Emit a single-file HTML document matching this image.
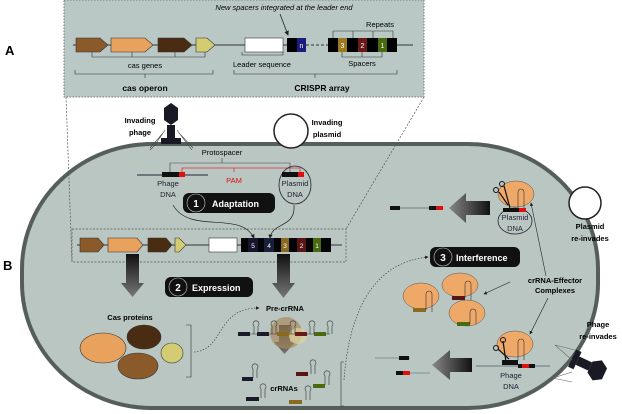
<!DOCTYPE html>
<html><head><meta charset="utf-8"><style>body{margin:0;background:#fff}svg{display:block}text{font-family:"Liberation Sans",sans-serif}</style></head><body>
<svg width="622" height="414" viewBox="0 0 622 414" xmlns="http://www.w3.org/2000/svg">
<defs>
<marker id="ah" markerWidth="6" markerHeight="6" refX="5" refY="3" orient="auto"><path d="M0,0 L6,3 L0,6 z" fill="#222"/></marker>
<linearGradient id="gv" x1="0" y1="0" x2="0" y2="1"><stop offset="0" stop-color="#111"/><stop offset="1" stop-color="#777"/></linearGradient>
<linearGradient id="gh" x1="1" y1="0" x2="0" y2="0"><stop offset="0" stop-color="#111"/><stop offset="1" stop-color="#888"/></linearGradient>
</defs>
<!-- cell -->
<rect x="22" y="144" width="576" height="264" rx="130" ry="125" fill="#b9c6c2" stroke="#555e5b" stroke-width="4"/>
<!-- panel A -->
<rect x="64" y="0" width="360" height="97" fill="#b9c8c4" stroke="#777" stroke-dasharray="1.5,1.5"/>
<line x1="66" y1="97" x2="72" y2="262" stroke="#555" stroke-width="0.7" stroke-dasharray="2,1.5"/>
<line x1="424" y1="97" x2="346" y2="229" stroke="#555" stroke-width="0.7" stroke-dasharray="2,1.5"/>
<path d="M72,229 H346 V262 H72 Z" fill="none" stroke="#555" stroke-width="0.7" stroke-dasharray="2,1.5"/>
<text x="5" y="55" font-size="13" font-weight="bold">A</text>
<text x="3" y="270" font-size="13" font-weight="bold">B</text>
<text x="284" y="10" font-size="7.5" font-style="italic" text-anchor="middle">New spacers integrated at the leader end</text>
<line x1="280" y1="14" x2="288" y2="35" stroke="#222" stroke-width="0.8" marker-end="url(#ah)"/>
<line x1="73" y1="45" x2="287" y2="45" stroke="#333"/>
<line x1="306" y1="45" x2="328" y2="45" stroke="#333" stroke-dasharray="3,2"/>
<line x1="397" y1="45" x2="413" y2="45" stroke="#333"/>
<g stroke="#333" stroke-width="0.6">
<path d="M76,38 H100 L108,45 L100,52 H76 Z" fill="#8b5a2b"/>
<path d="M111,38 H145 L153,45 L145,52 H111 Z" fill="#e8a25e"/>
<path d="M158,38 H184 L192,45 L184,52 H158 Z" fill="#4a2c12"/>
<path d="M196,38 H207 L215,45 L207,52 H196 Z" fill="#d4cc72"/>
<rect x="245" y="38" width="38" height="14" fill="#fff"/>
</g>
<rect x="287" y="38" width="10" height="14" fill="#000"/><rect x="297" y="38" width="9" height="14" fill="#1c1c7a"/>
<text x="301.5" y="48" font-size="7" fill="#fff" text-anchor="middle">n</text>
<rect x="328" y="38" width="69" height="14" fill="#000"/>
<rect x="338" y="38" width="9" height="14" fill="#9b7a20"/><rect x="358" y="38" width="9" height="14" fill="#6b1a1a"/><rect x="378" y="38" width="9" height="14" fill="#4a6a10"/>
<g font-size="7" fill="#fff" text-anchor="middle"><text x="342.5" y="48">3</text><text x="362.5" y="48">2</text><text x="382.5" y="48">1</text></g>
<g fill="none" stroke="#333" stroke-width="0.6">
<path d="M333,38 V31 H393 V38 M353,31 V38 M373,31 V38"/>
<path d="M342,52 V57 H382 V52 M362,52 V57"/>
<path d="M92,52 V57 H205 V52 M132,52 V57 M175,52 V57"/>
<path d="M75,70 V74 H213 V70 M145,74 V78"/>
<path d="M242,52 V55 H283 V52"/>
<path d="M234,70 V74 H397 V70 M315,74 V78"/>
</g>
<g font-size="7.5" text-anchor="middle">
<text x="380" y="27">Repeats</text><text x="362" y="66">Spacers</text>
<text x="145" y="68">cas genes</text><text x="262" y="67">Leader sequence</text>
<text x="145" y="91" font-size="8.5" font-weight="bold">cas operon</text>
<text x="322" y="91" font-size="8.5" font-weight="bold">CRISPR array</text>
</g>
<!-- invading phage -->
<g fill="#1a1a24">
<polygon points="171,103 178,108 178,120 171,125 164,120 164,108"/>
<rect x="167" y="125" width="8" height="15"/><rect x="161" y="138" width="20" height="6"/>
</g>
<g stroke="#444" stroke-width="0.6" fill="none"><path d="M165,130 L155,145 L150,150 M177,130 L188,145 L192,150 M163,133 L150,148 M179,133 L193,148"/></g>
<text x="140" y="123" font-size="7.5" font-weight="bold" text-anchor="middle">Invading</text>
<text x="140" y="135" font-size="7.5" font-weight="bold" text-anchor="middle">phage</text>
<circle cx="291" cy="131" r="17" fill="#fff" stroke="#222" stroke-width="1.5"/>
<text x="327" y="125" font-size="7.5" font-weight="bold" text-anchor="middle">Invading</text>
<text x="327" y="137" font-size="7.5" font-weight="bold" text-anchor="middle">plasmid</text>
<!-- adaptation -->
<text x="222" y="155" font-size="7.5" text-anchor="middle">Protospacer</text>
<path d="M170,172 V163 H290 V172 M222,163 V158" fill="none" stroke="#444" stroke-width="0.6"/>
<path d="M182,173 V168 H300 V173 M234,168 V172" fill="none" stroke="#d33" stroke-width="0.8"/>
<line x1="137" y1="175" x2="208" y2="175" stroke="#445" stroke-width="1.2"/>
<rect x="162" y="172" width="23" height="5" fill="#111"/><rect x="179" y="172" width="6" height="5" fill="#e01010"/>
<text x="234" y="183" font-size="7.5" fill="#d11" text-anchor="middle">PAM</text>
<ellipse cx="295" cy="185" rx="16" ry="19" fill="none" stroke="#223" stroke-width="0.8"/>
<rect x="282" y="172" width="21" height="5" fill="#111"/><rect x="298" y="172" width="6" height="5" fill="#e01010"/>
<g font-size="7.5" fill="#223" text-anchor="middle"><text x="168" y="186">Phage</text><text x="168" y="197">DNA</text><text x="295" y="186">Plasmid</text><text x="295" y="197">DNA</text></g>
<rect x="183" y="193" width="92" height="20" rx="6" fill="#111"/><circle cx="196" cy="203" r="9" fill="#111" stroke="#ccc" stroke-width="0.6"/>
<text x="196" y="207" font-size="10" fill="#fff" text-anchor="middle" font-weight="bold">1</text>
<text x="212" y="207" font-size="9" fill="#fff" font-weight="bold">Adaptation</text>
<path d="M173,205 C190,235 240,210 254,238" fill="none" stroke="#222" stroke-width="0.7" marker-end="url(#ah)"/>
<path d="M294,205 C296,228 272,222 270,238" fill="none" stroke="#222" stroke-width="0.7" marker-end="url(#ah)"/>
<!-- B gene row -->
<line x1="77" y1="245" x2="342" y2="245" stroke="#333"/>
<g stroke="#333" stroke-width="0.6">
<path d="M80,238 H98 L104,245 L98,252 H80 Z" fill="#8b5a2b"/>
<path d="M108,238 H137 L143,245 L137,252 H108 Z" fill="#e8a25e"/>
<path d="M148,238 H166 L172,245 L166,252 H148 Z" fill="#4a2c12"/>
<path d="M175,238 H179 L186,245 L179,252 H175 Z" fill="#d4cc72"/>
<rect x="209" y="238" width="28" height="14" fill="#fff"/>
</g>
<rect x="241" y="238" width="90" height="14" fill="#050508"/>
<rect x="248" y="238" width="10" height="14" fill="#151530"/><rect x="264" y="238" width="10" height="14" fill="#1a2038"/>
<rect x="281" y="238" width="8" height="14" fill="#8a6a20"/><rect x="297" y="238" width="9" height="14" fill="#5a1515"/><rect x="313" y="238" width="8" height="14" fill="#4a6a10"/>
<g font-size="6.5" fill="#fff" text-anchor="middle"><text x="253" y="248">5</text><text x="269" y="248">4</text><text x="285" y="248">3</text><text x="301.5" y="248">2</text><text x="317" y="248">1</text></g>
<!-- gray arrows -->
<path d="M126,254 H139 V283 H144 L132.5,297 L121,283 H126 Z" fill="url(#gv)"/>
<path d="M277,254 H290 V283 H295 L283.5,298 L272,283 H277 Z" fill="url(#gv)"/>
<path d="M279,325 H290 V342 H295 L284.5,354 L274,342 H279 Z" fill="url(#gv)"/>
<rect x="165" y="277" width="88" height="20" rx="6" fill="#111"/><circle cx="178" cy="287" r="9" fill="#111" stroke="#ccc" stroke-width="0.6"/>
<text x="178" y="291" font-size="10" fill="#fff" text-anchor="middle" font-weight="bold">2</text>
<text x="192" y="291" font-size="9" fill="#fff" font-weight="bold">Expression</text>
<text x="130" y="320" font-size="7.5" font-weight="bold" text-anchor="middle">Cas proteins</text>
<g stroke="#333" stroke-width="0.6">
<ellipse cx="103" cy="348" rx="23" ry="15" fill="#e8a25e"/>
<ellipse cx="144" cy="337" rx="17" ry="12" fill="#4a2c12"/>
<ellipse cx="138" cy="366" rx="20" ry="13" fill="#8b5a2b"/>
<ellipse cx="172" cy="353" rx="11" ry="10" fill="#d4cc72"/>
</g>
<path d="M186,325 H191 V377 H186" fill="none" stroke="#333" stroke-width="0.6"/>
<path d="M194,352 C225,350 215,308 259,308" fill="none" stroke="#333" stroke-width="0.6" stroke-dasharray="1.5,1.5" marker-end="url(#ah)"/>
<text x="285" y="311" font-size="7.5" font-weight="bold" text-anchor="middle">Pre-crRNA</text>
<!-- pre-crRNA -->
<ellipse cx="286" cy="333" rx="16" ry="16" fill="#a88a60" opacity="0.7"/>
<ellipse cx="298" cy="336" rx="9" ry="8" fill="#ddd49a" opacity="0.7"/>
<line x1="238" y1="334" x2="330" y2="334" stroke="#333" stroke-width="0.5"/>
<g fill="#1a1a2a"><rect x="238" y="332" width="12" height="4"/><rect x="257" y="332" width="12" height="4"/></g>
<rect x="277" y="332" width="12" height="4" fill="#8a6a20"/><rect x="295" y="332" width="12" height="4" fill="#6b1a1a"/><rect x="314" y="332" width="12" height="4" fill="#4a6a10"/>
<g fill="none" stroke="#333" stroke-width="0.6">
<path d="M254,334 V326 a3,3 0 1,1 4,0 V334"/><path d="M272,334 V326 a3,3 0 1,1 4,0 V334"/><path d="M291,334 V326 a3,3 0 1,1 4,0 V334"/><path d="M310,334 V326 a3,3 0 1,1 4,0 V334"/><path d="M328,334 V326 a3,3 0 1,1 4,0 V334"/>
</g>
<text x="284" y="391" font-size="7.5" font-weight="bold" text-anchor="middle">crRNAs</text>
<g fill="none" stroke="#333" stroke-width="0.6">
<path d="M253,378 V369 a3,3 0 1,1 4,0 V378"/><path d="M261,398 V389 a3,3 0 1,1 4,0 V398"/><path d="M311,374 V365 a3,3 0 1,1 4,0 V374"/><path d="M306,400 V391 a3,3 0 1,1 4,0 V400"/><path d="M325,385 V376 a3,3 0 1,1 4,0 V385"/>
</g>
<rect x="242" y="377" width="11" height="4" fill="#1a1a2a"/><rect x="246" y="397" width="13" height="4" fill="#1a1a2a"/>
<rect x="296" y="372" width="12" height="4" fill="#5a1515"/><rect x="313" y="384" width="12" height="4" fill="#4a6a10"/><rect x="289" y="400" width="13" height="4" fill="#8a6a20"/>
<path d="M344,362 H341 V406 H344" fill="none" stroke="#333" stroke-width="0.6"/>
<!-- interference -->
<path d="M344,380 C350,300 380,262 428,257" fill="none" stroke="#333" stroke-width="0.6" stroke-dasharray="1.5,1.5" marker-end="url(#ah)"/>
<rect x="430" y="247" width="90" height="20" rx="6" fill="#111"/><circle cx="443" cy="257" r="9" fill="#111" stroke="#ccc" stroke-width="0.6"/>
<text x="443" y="261" font-size="10" fill="#fff" text-anchor="middle" font-weight="bold">3</text>
<text x="456" y="261" font-size="9" fill="#fff" font-weight="bold">Interference</text>
<!-- plasmid complex -->
<ellipse cx="516" cy="194" rx="18" ry="13" fill="#eea868" stroke="#555" stroke-width="0.5"/>
<ellipse cx="515" cy="221" rx="17" ry="13" fill="none" stroke="#223" stroke-width="0.8"/>
<rect x="503" y="208" width="22" height="4" fill="#111"/><rect x="519" y="208" width="7" height="4" fill="#e01010"/>
<path d="M518,208 V192 a3,3 0 1,1 6,0 V208" fill="none" stroke="#333" stroke-width="0.6"/>
<path d="M504,186 L510,208 M499,192 L508,205" stroke="#111" stroke-width="1.2"/>
<circle cx="502" cy="184" r="2.5" fill="none" stroke="#111"/><circle cx="496" cy="190" r="2.5" fill="none" stroke="#111"/>
<g font-size="7.5" fill="#223" text-anchor="middle"><text x="515" y="220">Plasmid</text><text x="515" y="231">DNA</text></g>
<path d="M490,201 H466 V193 L449,208 L466,223 V215 H490 Z" fill="url(#gh)"/>
<line x1="390" y1="208" x2="442" y2="208" stroke="#333" stroke-width="0.6"/>
<rect x="390" y="206" width="10" height="4" fill="#111"/><rect x="429" y="206" width="14" height="4" fill="#111"/><rect x="436" y="206" width="7" height="4" fill="#e01010"/>
<circle cx="585" cy="203" r="16" fill="#fff" stroke="#222" stroke-width="1.5"/>
<text x="590" y="229" font-size="7.5" font-weight="bold" text-anchor="middle">Plasmid</text>
<text x="590" y="241" font-size="7.5" font-weight="bold" text-anchor="middle">re-invades</text>
<text x="555" y="283" font-size="7.5" font-weight="bold" text-anchor="middle">crRNA-Effector</text>
<text x="555" y="293" font-size="7.5" font-weight="bold" text-anchor="middle">Complexes</text>
<path d="M546,276 L531,203" stroke="#222" stroke-width="0.6" marker-end="url(#ah)"/>
<path d="M510,282 L484,294" stroke="#222" stroke-width="0.6" marker-end="url(#ah)"/>
<path d="M548,298 L530,334" stroke="#222" stroke-width="0.6" marker-end="url(#ah)"/>
<!-- complexes -->
<g stroke="#555" stroke-width="0.5" fill="#eea868">
<ellipse cx="421" cy="296" rx="18" ry="13"/><ellipse cx="460" cy="285" rx="18" ry="12"/><ellipse cx="467" cy="313" rx="18" ry="13"/>
</g>
<rect x="413" y="308" width="13" height="4" fill="#8a6a20"/><rect x="452" y="296" width="13" height="4" fill="#5a1515"/><rect x="457" y="322" width="13" height="4" fill="#4a6a10"/>
<g fill="none" stroke="#333" stroke-width="0.6">
<path d="M426,310 V294 a3,3 0 1,1 6,0 V312"/><path d="M465,298 V284 a3,3 0 1,1 6,0 V300"/><path d="M470,324 V312 a3,3 0 1,1 6,0 V324"/>
</g>
<!-- phage complex -->
<ellipse cx="515" cy="344" rx="18" ry="13" fill="#eea868" stroke="#555" stroke-width="0.5"/>
<line x1="476" y1="366" x2="550" y2="366" stroke="#556" stroke-width="0.8"/>
<rect x="502" y="360" width="16" height="5" fill="#111"/><rect x="518" y="364" width="17" height="4" fill="#111"/><rect x="522" y="364" width="7" height="4" fill="#e01010"/>
<path d="M518,360 V342 a3,3 0 1,1 6,0 V360" fill="none" stroke="#333" stroke-width="0.6"/>
<path d="M503,341 L506,362 M498,349 L509,359" stroke="#111" stroke-width="1.2"/>
<circle cx="503" cy="340" r="2.5" fill="none" stroke="#111"/><circle cx="496" cy="348" r="2.5" fill="none" stroke="#111"/>
<g font-size="7.5" fill="#223" text-anchor="middle"><text x="511" y="378">Phage</text><text x="511" y="389">DNA</text></g>
<path d="M472,358 H450 V350 L432,365 L450,380 V372 H472 Z" fill="url(#gh)"/>
<line x1="375" y1="358" x2="410" y2="358" stroke="#556" stroke-width="0.6"/>
<rect x="399" y="356" width="10" height="4" fill="#111"/>
<line x1="396" y1="373" x2="430" y2="373" stroke="#556" stroke-width="0.6"/>
<rect x="396" y="371" width="14" height="4" fill="#111"/><rect x="403" y="371" width="7" height="4" fill="#e01010"/>
<text x="598" y="327" font-size="7.5" font-weight="bold" text-anchor="middle">Phage</text>
<text x="598" y="339" font-size="7.5" font-weight="bold" text-anchor="middle">re-invades</text>
<g fill="#1a1a24" transform="rotate(25 590 367)">
<polygon points="598,356 606,361 606,373 598,378 590,373 590,361"/>
<rect x="576" y="362" width="14" height="9"/><rect x="570" y="357" width="6" height="19"/>
</g>
<g stroke="#666" stroke-width="0.6" fill="none"><path d="M572,360 L555,345 L575,350 M572,372 L553,378 L572,382"/></g>
</svg>
</body></html>
